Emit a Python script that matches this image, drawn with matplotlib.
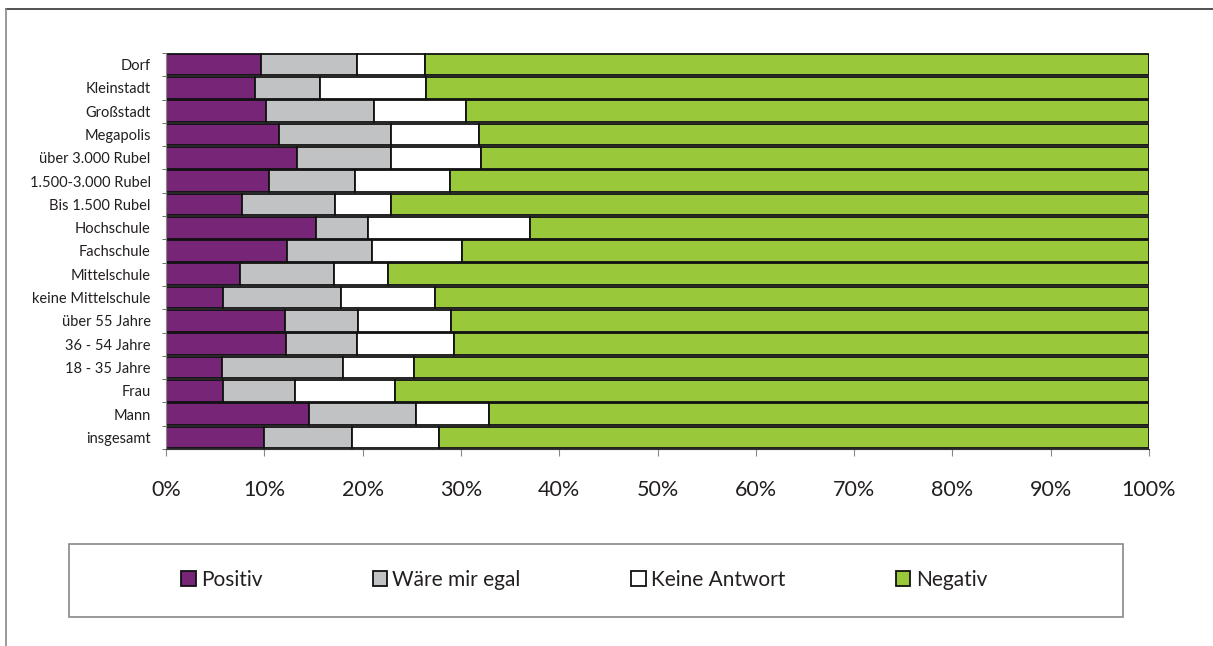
import matplotlib.pyplot as plt
import numpy as np
from matplotlib.patches import Rectangle
from matplotlib.lines import Line2D

plt.rcParams["font.family"] = ["Lato", "DejaVu Sans"]

# Kategorien von unten nach oben
categories = [
    "insgesamt",
    "Mann",
    "Frau",
    "18 - 35 Jahre",
    "36 - 54 Jahre",
    "über 55 Jahre",
    "keine Mittelschule",
    "Mittelschule",
    "Fachschule",
    "Hochschule",
    "Bis 1.500 Rubel",
    "1.500-3.000 Rubel",
    "über 3.000 Rubel",
    "Megapolis",
    "Großstadt",
    "Kleinstadt",
    "Dorf",
]

# Anteile in Prozent
positiv = [10.0, 14.5, 5.8, 5.7, 12.2, 12.1, 5.8, 7.5, 12.3, 15.3, 7.7, 10.5, 13.3, 11.5, 10.2, 9.1, 9.7]
egal = [8.9, 10.9, 7.3, 12.3, 7.2, 7.4, 12.0, 9.6, 8.7, 5.2, 9.5, 8.7, 9.6, 11.4, 11.0, 6.6, 9.7]
keine_antwort = [8.9, 7.5, 10.2, 7.2, 9.9, 9.5, 9.6, 5.5, 9.1, 16.5, 5.7, 9.7, 9.1, 8.9, 9.3, 10.7, 6.9]
negativ = [72.2, 67.1, 76.7, 74.8, 70.7, 71.0, 72.6, 77.4, 69.9, 63.0, 77.1, 71.1, 68.0, 68.2, 69.5, 73.6, 73.7]

series = [
    ("Positiv", positiv, "#772576"),
    ("Wäre mir egal", egal, "#c1c2c4"),
    ("Keine Antwort", keine_antwort, "#ffffff"),
    ("Negativ", negativ, "#99c93b"),
]

text_color = "#231f20"
W, H = 1213, 646

fig = plt.figure(figsize=(W / 100, H / 100), dpi=100)
ax = fig.add_axes([166 / W, 1 - 449 / H, (1149 - 166) / W, (449 - 53) / H])

y = np.arange(len(categories))
left = np.zeros(len(categories))
for name, vals, color in series:
    vals = np.array(vals)
    ax.barh(y, vals, left=left, height=0.93, color=color,
            edgecolor="#111111", linewidth=1.3, label=name)
    left += vals

ax.set_xlim(0, 100)
ax.set_ylim(-0.5, len(categories) - 0.5)
ax.set_xticks(np.arange(0, 101, 10))
ax.set_xticklabels([f"{v}%" for v in range(0, 101, 10)], fontsize=15.5, color=text_color)
ax.set_yticks(y)
ax.set_yticklabels(categories, fontsize=10.5, color=text_color)
ax.set_yticks(np.arange(-0.5, len(categories), 1.0), minor=True)
ax.tick_params(axis="y", which="major", length=0, pad=11)
ax.tick_params(axis="y", which="minor", length=3, color="#555555", direction="out")
ax.tick_params(axis="x", length=5, color="#888888", direction="out", pad=17)

for side in ["top", "right"]:
    ax.spines[side].set_visible(False)
ax.spines["left"].set_color("#888888")
ax.spines["bottom"].set_color("#333333")

# Rahmen um die Legende
fig.patches.append(Rectangle((69 / W, 1 - 617 / H), (1123 - 69) / W, (617 - 544) / H,
                             transform=fig.transFigure, facecolor="none",
                             edgecolor="#888888", linewidth=1.2))
handles, labels = ax.get_legend_handles_labels()
fig.legend(handles, labels, loc="center", bbox_to_anchor=(584 / W, 1 - 580 / H),
           ncol=4, frameon=False, fontsize=15, handlelength=0.7, handleheight=0.7,
           handletextpad=0.25, columnspacing=5.3, labelcolor=text_color)

# Rahmenlinien oben und links
fig.add_artist(Line2D([6 / W, 1], [1 - 9 / H, 1 - 9 / H], transform=fig.transFigure,
                      color="#333333", linewidth=1.2))
fig.add_artist(Line2D([6 / W, 6 / W], [0, 1 - 9 / H], transform=fig.transFigure,
                      color="#888888", linewidth=1.2))

fig.savefig("out.png", dpi=100)
